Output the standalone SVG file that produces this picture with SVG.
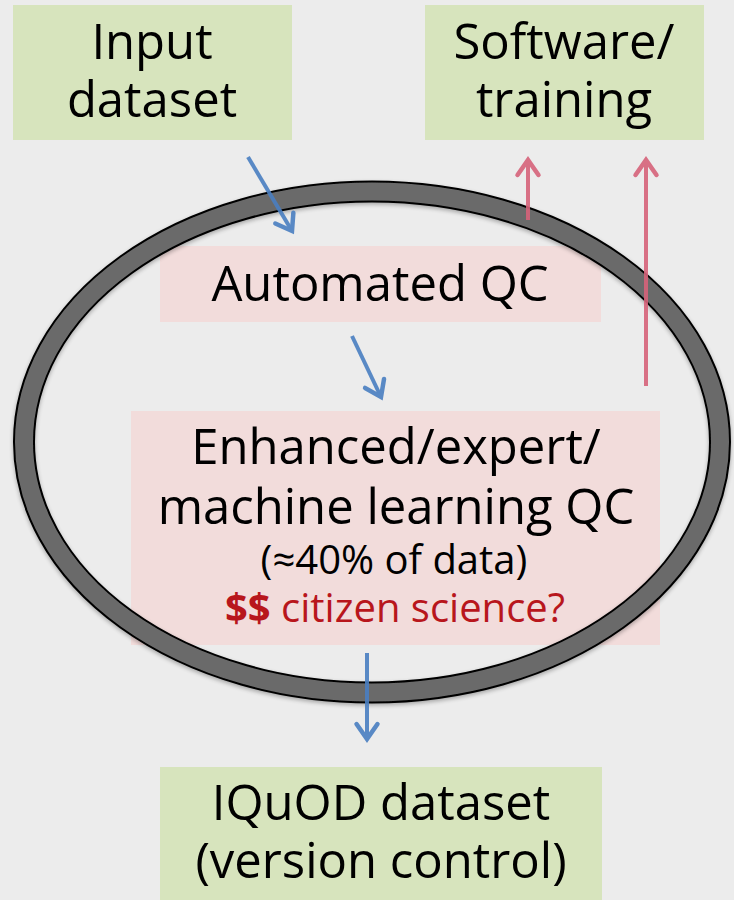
<svg xmlns="http://www.w3.org/2000/svg" width="734" height="900" viewBox="0 0 734 900">
  <style>
    .green { fill: #d7e4bd; }
    .pink { fill: #f2dcdb; }
    .t { font-family: "Open Sans", "Noto Sans", sans-serif; font-size: 49px; fill: #000; text-anchor: middle; }
    .s { font-size: 40px; }
    .red { fill: #b8161c; }
    .blue { stroke: #4a7fc1; stroke-width: 4; fill: none; }
    .redarrow { stroke: #d6637a; stroke-width: 4; fill: none; }
  </style>
  <defs>
    <marker id="headBlue" markerUnits="userSpaceOnUse" viewBox="-18 -13 20 26" markerWidth="20" markerHeight="26" refX="0" refY="0" orient="auto" overflow="visible">
      <path d="M-15,-10.5 L0,0 L-15,10.5" fill="none" stroke="#4a7fc1" stroke-width="4.5" stroke-linecap="round" stroke-linejoin="miter"/>
    </marker>
    <marker id="headRed" markerUnits="userSpaceOnUse" viewBox="-18 -13 20 26" markerWidth="20" markerHeight="26" refX="0" refY="0" orient="auto" overflow="visible">
      <path d="M-15,-10.5 L0,0 L-15,10.5" fill="none" stroke="#d6637a" stroke-width="4.5" stroke-linecap="round" stroke-linejoin="miter"/>
    </marker>
    <filter id="shadow" x="-10%" y="-10%" width="120%" height="120%">
      <feGaussianBlur in="SourceAlpha" stdDeviation="2"/>
      <feOffset dx="0" dy="2" result="b"/>
      <feComponentTransfer><feFuncA type="linear" slope="0.3"/></feComponentTransfer>
      <feMerge><feMergeNode/><feMergeNode in="SourceGraphic"/></feMerge>
    </filter>
  </defs>

  <rect x="0" y="0" width="734" height="900" fill="#ececec"/>

  <g id="input-dataset">
    <rect class="green" x="13" y="5" width="279" height="135"/>
    <text class="t" x="152" y="59">Input</text>
    <text class="t" x="152" y="117">dataset</text>
  </g>

  <g id="software-training">
    <rect class="green" x="425" y="5" width="279" height="135"/>
    <text class="t" x="564" y="59">Software/</text>
    <text class="t" x="564" y="117">training</text>
  </g>

  <g id="automated-qc">
    <rect class="pink" x="160" y="246" width="441" height="76"/>
    <text class="t" x="380" y="301">Automated QC</text>
  </g>

  <g id="enhanced-qc">
    <rect class="pink" x="131" y="411" width="529" height="234"/>
    <text class="t" x="396" y="464">Enhanced/expert/</text>
    <text class="t" x="396" y="524">machine learning QC</text>
    <text class="t s" x="394" y="574">(≈40% of data)</text>
    <text class="t s red" x="395" y="622"><tspan font-weight="bold">$$</tspan> citizen science?</text>
  </g>

  <g id="iquod-dataset">
    <rect class="green" x="160" y="767" width="442" height="140"/>
    <text class="t" x="381" y="820">IQuOD dataset</text>
    <text class="t" x="381" y="878">(version control)</text>
  </g>

  <g id="qc-cycle" filter="url(#shadow)">
    <ellipse cx="372" cy="442" rx="348" ry="250.5" fill="none" stroke="#000" stroke-width="22"/>
    <ellipse cx="372" cy="442" rx="348" ry="250.5" fill="none" stroke="#6b6b6b" stroke-width="18"/>
  </g>

  <g id="connectors" opacity="0.9">
    <line class="blue" x1="248" y1="157" x2="292" y2="231" marker-end="url(#headBlue)"/>
    <line class="blue" x1="352" y1="336" x2="381" y2="397" marker-end="url(#headBlue)"/>
    <line class="blue" x1="367" y1="653" x2="367" y2="739" marker-end="url(#headBlue)"/>
    <line class="redarrow" x1="528" y1="220" x2="528" y2="160" marker-end="url(#headRed)"/>
    <line class="redarrow" x1="646" y1="386" x2="646" y2="160" marker-end="url(#headRed)"/>
  </g>
</svg>
